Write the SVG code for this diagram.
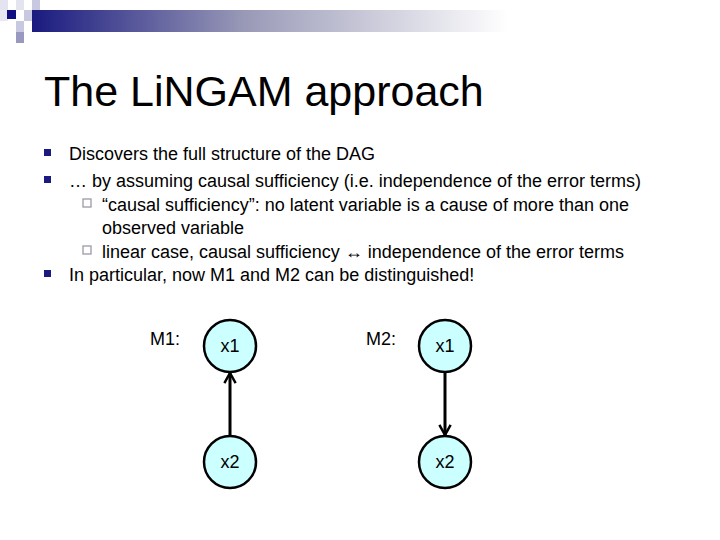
<svg xmlns="http://www.w3.org/2000/svg" width="720" height="540" viewBox="0 0 720 540">
<style>
text{font-family:"Liberation Sans",Arial,sans-serif;fill:#000}
.b{font-size:18px}
.n circle{fill:#ccffff;stroke:#000;stroke-width:2.5}
.n text{font-size:18px;text-anchor:middle}
.e{stroke:#000;stroke-width:3;fill:none}
</style>
<defs>
<linearGradient id="g" x1="0" x2="1"><stop offset="0" stop-color="#1a1a80"/><stop offset="0.45" stop-color="#9a9ab8"/><stop offset="1" stop-color="#ffffff"/></linearGradient>
<marker id="a" viewBox="0 0 12 12" refX="10" refY="6" markerWidth="4.5" markerHeight="4.5" orient="auto-start-reverse"><path d="M1,1L10,6L1,11" fill="none" stroke="#000" stroke-width="2.2"/></marker>
</defs>
<rect x="0" y="0" width="8" height="10" fill="#e4e4f0"/>
<rect x="16" y="0" width="8" height="10" fill="#e4e4f0"/>
<rect x="32" y="0" width="8" height="10" fill="#c8c8e0"/>
<rect x="0" y="10" width="8" height="11" fill="#e8e8f2"/>
<rect x="7" y="10" width="9" height="9" fill="#101080"/>
<rect x="24" y="10" width="16" height="11" fill="#c8c8e0"/>
<rect x="32" y="10" width="476" height="22" fill="url(#g)"/>
<rect x="16" y="21" width="8" height="11" fill="#c8c8e0"/>
<rect x="16" y="32" width="8" height="11" fill="#9898c0"/>
<text x="44" y="106" font-size="43" fill="#111">The LiNGAM approach</text>
<g fill="#1a1a80"><rect x="44" y="149" width="7" height="7"/><rect x="44" y="176" width="7" height="7"/><rect x="44" y="270" width="7" height="7"/></g>
<g fill="none" stroke="#9a9aa8" stroke-width="1.3"><rect x="83" y="199" width="8" height="8"/><rect x="83" y="246" width="8" height="8"/></g>
<text class="b" x="69" y="160">Discovers the full structure of the DAG</text>
<text class="b" x="69" y="187">… by assuming causal sufficiency (i.e. independence of the error terms)</text>
<text class="b" x="102" y="211">“causal sufficiency”: no latent variable is a cause of more than one</text>
<text class="b" x="102" y="234">observed variable</text>
<text class="b" x="102" y="258"> linear case, causal sufficiency ↔ independence of the error terms</text>
<text class="b" x="69" y="281">In particular, now M1 and M2 can be distinguished!</text>
<text class="b" x="150" y="345">M1:</text>
<text class="b" x="366" y="345">M2:</text>
<g id="edges">
<line class="e" x1="230" y1="437" x2="230" y2="373" marker-end="url(#a)"/>
<line class="e" x1="445" y1="371" x2="445" y2="435" marker-end="url(#a)"/>
</g>
<g id="m1x1" class="n"><circle cx="230" cy="346" r="26"/><text x="230" y="352">x1</text></g>
<g id="m1x2" class="n"><circle cx="230" cy="462" r="26"/><text x="230" y="468">x2</text></g>
<g id="m2x1" class="n"><circle cx="445" cy="346" r="26"/><text x="445" y="352">x1</text></g>
<g id="m2x2" class="n"><circle cx="445" cy="462" r="26"/><text x="445" y="468">x2</text></g>
</svg>
